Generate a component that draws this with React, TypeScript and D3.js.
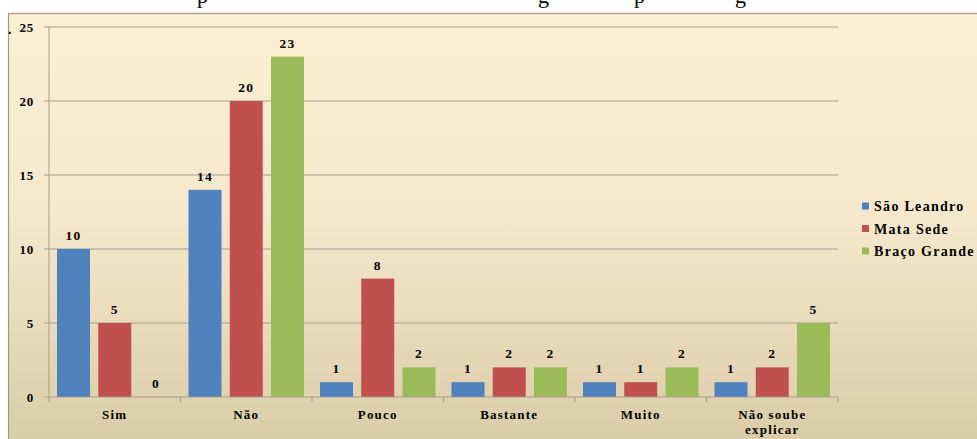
import React from "react";
import * as d3 from "d3";

const categories = ["Sim", "Não", "Pouco", "Bastante", "Muito", "Não soube explicar"];
const seriesNames = ["São Leandro", "Mata Sede", "Braço Grande"];
const saoLeandro = [10, 14, 1, 1, 1, 1];
const mataSede = [5, 20, 8, 2, 1, 2];
const bracoGrande = [0, 23, 2, 2, 2, 5];
const yTicks = [0, 5, 10, 15, 20, 25];
const colors = ["#4f81bd", "#c0504d", "#9bbb59"];

const W = 977;
const H = 439;
const plot = { left: 49, right: 838, top: 27, bottom: 397 };
const FONT = '"Liberation Serif", "Times New Roman", "DejaVu Serif", serif';
const tStyle: React.CSSProperties = { fontFamily: FONT, fontWeight: 700 };

export default function App() {
  const series = [saoLeandro, mataSede, bracoGrande];
  const x = d3.scaleBand<string>().domain(categories).range([plot.left, plot.right]).padding(0);
  const inner = d3
    .scaleBand<string>()
    .domain(seriesNames)
    .range([8, x.bandwidth() - 8])
    .paddingInner(0.2)
    .paddingOuter(0);
  const y = d3.scaleLinear().domain([0, 25]).range([plot.bottom, plot.top]);
  const tickPositions = [...categories.map((c) => x(c)!), plot.right];

  return (
    <svg
      width={W}
      height={H}
      style={{ position: "absolute", left: 0, top: 0, display: "block" }}
    >
      <defs>
        <linearGradient id="bg" x1="0" y1="0" x2="0" y2="1">
          <stop offset="0%" stopColor="#fdefd3" />
          <stop offset="45%" stopColor="#f6e8cc" />
          <stop offset="100%" stopColor="#d9cba6" />
        </linearGradient>
        <clipPath id="topclip">
          <rect x={0} y={0} width={W} height={13} />
        </clipPath>
      </defs>
      <rect x={0} y={0} width={W} height={H} fill="#ffffff" />
      <g clipPath="url(#topclip)" fill="#000">
        <text x={197} y={3} style={{ fontFamily: FONT, fontSize: 22 }}>p</text>
        <text x={538} y={3} style={{ fontFamily: FONT, fontSize: 22 }}>g</text>
        <text x={634} y={3} style={{ fontFamily: FONT, fontSize: 22 }}>p</text>
        <text x={735} y={3} style={{ fontFamily: FONT, fontSize: 22 }}>g</text>
      </g>
      <rect x={8.5} y={13.5} width={W} height={H} fill="url(#bg)" stroke="#9c9788" strokeWidth={1.2} />

      {/* gridlines and y ticks */}
      {yTicks.map((t) => (
        <g key={t}>
          {t > 0 && (
            <line x1={plot.left} x2={plot.right} y1={y(t)} y2={y(t)} stroke="#a39f90" strokeWidth={1} />
          )}
          <line x1={plot.left - 5} x2={plot.left} y1={y(t)} y2={y(t)} stroke="#a39f90" strokeWidth={1} />
          <text
            x={34}
            y={y(t) + 4.5}
            textAnchor="end"
            style={{ ...tStyle, fontSize: 13, letterSpacing: 0.8 }}
          >
            {t}
          </text>
        </g>
      ))}
      <text x={8} y={34} style={{ ...tStyle, fontSize: 14 }}>.</text>

      {/* bars */}
      {categories.map((c, i) => (
        <g key={c} transform={`translate(${x(c)},0)`}>
          {series.map((s, k) => {
            const v = s[i];
            const bx = inner(seriesNames[k])!;
            return (
              <g key={k}>
                {v > 0 && (
                  <rect
                    x={bx}
                    y={y(v)}
                    width={inner.bandwidth()}
                    height={y(0) - y(v)}
                    fill={colors[k]}
                  />
                )}
                <text
                  x={bx + inner.bandwidth() / 2}
                  y={y(v) - 9}
                  textAnchor="middle"
                  style={{ ...tStyle, fontSize: 13.5, letterSpacing: 1.2 }}
                >
                  {v}
                </text>
              </g>
            );
          })}
        </g>
      ))}

      {/* axes */}
      <line x1={plot.left} x2={plot.left} y1={plot.top} y2={plot.bottom} stroke="#a39f90" strokeWidth={1} />
      <line x1={plot.left} x2={plot.right} y1={plot.bottom} y2={plot.bottom} stroke="#a39f90" strokeWidth={1} />
      {tickPositions.map((p, i) => (
        <line key={i} x1={p} x2={p} y1={plot.bottom} y2={plot.bottom + 5} stroke="#a39f90" strokeWidth={1} />
      ))}
      {categories.map((c) => {
        const cx = x(c)! + x.bandwidth() / 2;
        const words = c === "Não soube explicar" ? ["Não soube", "explicar"] : [c];
        return (
          <text
            key={c}
            x={cx}
            y={419}
            textAnchor="middle"
            style={{ ...tStyle, fontSize: 13, letterSpacing: 1.2 }}
          >
            {words.map((w, j) => (
              <tspan key={j} x={cx} dy={j === 0 ? 0 : 15}>
                {w}
              </tspan>
            ))}
          </text>
        );
      })}

      {/* legend */}
      {seriesNames.map((n, k) => {
        const ly = 206 + k * 22.5;
        return (
          <g key={n}>
            <rect x={862} y={ly - 3.5} width={7} height={7} fill={colors[k]} />
            <text x={874} y={ly + 5} style={{ ...tStyle, fontSize: 14, letterSpacing: 1.3 }}>
              {n}
            </text>
          </g>
        );
      })}
    </svg>
  );
}
